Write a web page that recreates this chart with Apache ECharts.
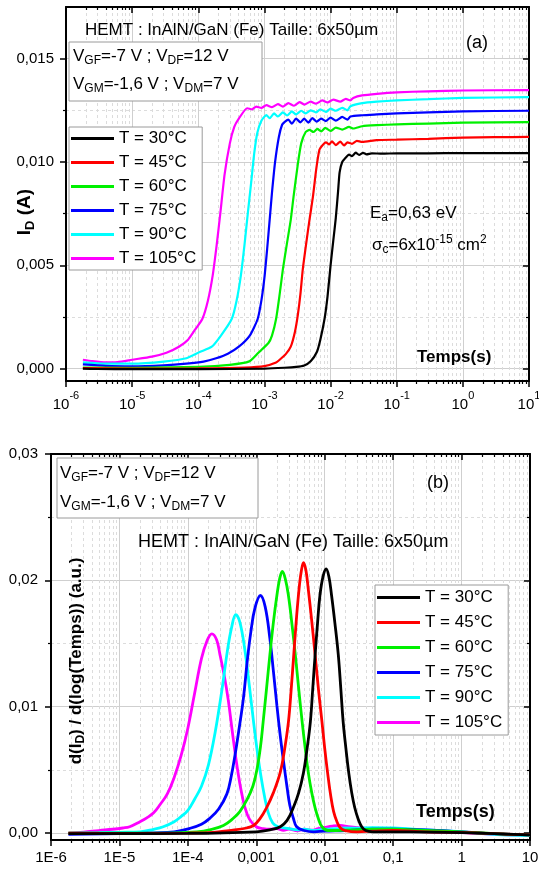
<!DOCTYPE html>
<html><head><meta charset="utf-8">
<script src="https://cdn.jsdelivr.net/npm/echarts@6/dist/echarts.min.js"></script>
<style>html,body{margin:0;padding:0;background:#fff}#c{width:539px;height:869px}</style>
</head><body><div id="c"></div><script>
// ---------- data ----------
const seriesNames = ['T = 30°C','T = 45°C','T = 60°C','T = 75°C','T = 90°C','T = 105°C'];
const seriesColors = ['#000000','#ff0000','#00f000','#0000ff','#00ffff','#ff00ff'];

// x axis ticks
const timeMajorTicks = [1e-6,1e-5,1e-4,1e-3,1e-2,1e-1,1,10];
const topXExponents = ['-6','-5','-4','-3','-2','-1','0','1'];
const bottomXTickLabels = ['1E-6','1E-5','1E-4','0,001','0,01','0,1','1','10'];
const decadeStarts = [1e-6,1e-5,1e-4,1e-3,1e-2,1e-1,1];
const minorMultipliers = [2,3,4,5,6,7,8,9];
// y axis ticks
const topYMajor = [0, 0.005, 0.010, 0.015];
const topYMinor = [0.0025, 0.0075, 0.0125];
const bottomYMajor = [0, 0.01, 0.02, 0.03];
const bottomYMinor = [0.005, 0.015, 0.025];

// (a) I_D vs time
const topCurve30 = [[1.8e-6,0.0],[3e-6,-0.00002],[1e-5,-0.00003],[1e-4,-0.00003],[1e-3,0.0],[2e-3,0.00004],[3e-3,0.00008],[4e-3,0.00015],[5e-3,0.00035],[6.2e-3,0.0008],[7e-3,0.0014],[8.1e-3,0.0024],[9e-3,0.0035],[1e-2,0.0050],[1.1e-2,0.0062],[1.2e-2,0.0073],[1.3e-2,0.0086],[1.37e-2,0.0095],[1.5e-2,0.0100],[1.7e-2,0.01022],[1.9e-2,0.01036],[2.1e-2,0.01028],[2.4e-2,0.01045],[2.7e-2,0.01034],[3.1e-2,0.01044],[3.5e-2,0.01037],[4.2e-2,0.01042],[6e-2,0.0104],[0.1,0.01042],[0.3,0.01042],[1,0.01043],[3,0.01043],[10,0.01043]];
const topCurve45 = [[1.8e-6,0.00002],[1e-5,0.0],[1e-4,0.00001],[5e-4,0.00005],[1e-3,0.00012],[1.5e-3,0.0003],[1.7e-3,0.00043],[2.1e-3,0.0007],[2.5e-3,0.00106],[2.9e-3,0.0018],[3.2e-3,0.0026],[3.5e-3,0.0036],[3.8e-3,0.0048],[4.3e-3,0.0061],[4.8e-3,0.0072],[5.4e-3,0.0083],[6.1e-3,0.0097],[6.8e-3,0.0106],[7.5e-3,0.0108],[8.5e-3,0.01095],[9.5e-3,0.01085],[1.05e-2,0.0110],[1.2e-2,0.01082],[1.4e-2,0.01098],[1.6e-2,0.0108],[1.8e-2,0.01095],[2.1e-2,0.01088],[2.5e-2,0.01102],[3e-2,0.01097],[5e-2,0.01106],[0.1,0.01108],[0.3,0.01112],[1,0.01118],[3,0.0112],[10,0.01121]];
const topCurve60 = [[1.8e-6,0.00005],[1e-5,0.00004],[1e-4,0.00008],[3e-4,0.00018],[5.9e-4,0.00035],[8.1e-4,0.00077],[1.15e-3,0.00124],[1.3e-3,0.0016],[1.5e-3,0.0024],[1.7e-3,0.0036],[1.9e-3,0.0048],[2.2e-3,0.0061],[2.5e-3,0.0072],[2.75e-3,0.0083],[3.2e-3,0.0099],[3.6e-3,0.0109],[4.2e-3,0.01145],[4.8e-3,0.01155],[5.5e-3,0.01145],[6.3e-3,0.0116],[7.2e-3,0.01148],[8.3e-3,0.01165],[1e-2,0.0115],[1.2e-2,0.01166],[1.5e-2,0.01157],[1.9e-2,0.0117],[2.2e-2,0.01162],[3e-2,0.01173],[5e-2,0.01178],[0.1,0.01182],[0.3,0.01186],[1,0.0119],[10,0.01193]];
const topCurve75 = [[1.8e-6,0.0002],[4e-6,0.00013],[1e-5,0.00011],[3e-5,0.00016],[6.6e-5,0.00024],[1.2e-4,0.00034],[1.86e-4,0.0005],[2.8e-4,0.00072],[4.1e-4,0.00106],[6e-4,0.0016],[7.9e-4,0.0024],[9e-4,0.0033],[1e-3,0.0044],[1.1e-3,0.0058],[1.2e-3,0.0072],[1.3e-3,0.0085],[1.45e-3,0.01],[1.65e-3,0.0112],[1.85e-3,0.0118],[2.05e-3,0.01195],[2.3e-3,0.01205],[2.6e-3,0.01185],[3e-3,0.0121],[3.5e-3,0.01192],[4e-3,0.0121],[4.6e-3,0.0119],[5.3e-3,0.01212],[6.2e-3,0.01195],[7.2e-3,0.0121],[8.5e-3,0.01198],[1e-2,0.01215],[1.2e-2,0.012],[1.5e-2,0.01218],[1.8e-2,0.01205],[2e-2,0.0122],[3e-2,0.01226],[5e-2,0.0123],[0.1,0.01235],[0.3,0.0124],[1,0.01245],[10,0.01248]];
const topCurve90 = [[1.8e-6,0.0003],[4e-6,0.00024],[1e-5,0.00024],[3e-5,0.00034],[6.6e-5,0.0005],[1.05e-4,0.0008],[1.6e-4,0.00106],[2.2e-4,0.0016],[3.2e-4,0.0024],[3.8e-4,0.0033],[4.4e-4,0.0045],[5e-4,0.006],[5.6e-4,0.0075],[6.3e-4,0.009],[7e-4,0.0104],[7.8e-4,0.0114],[9e-4,0.012],[1.07e-3,0.01227],[1.2e-3,0.01212],[1.4e-3,0.01235],[1.6e-3,0.0122],[1.9e-3,0.0124],[2.2e-3,0.01225],[2.6e-3,0.01245],[3e-3,0.0123],[3.6e-3,0.01248],[4.2e-3,0.01235],[5e-3,0.0125],[6e-3,0.0124],[7e-3,0.01255],[8.5e-3,0.01242],[1e-2,0.01258],[1.2e-2,0.01248],[1.5e-2,0.01262],[1.8e-2,0.0125],[2e-2,0.0127],[3e-2,0.01285],[5e-2,0.01292],[0.1,0.01298],[0.3,0.01304],[1,0.0131],[10,0.01314]];
const topCurve105 = [[1.8e-6,0.00043],[2.5e-6,0.00036],[4e-6,0.0003],[6e-6,0.00032],[1e-5,0.00043],[2e-5,0.00058],[3.3e-5,0.00077],[5.1e-5,0.00106],[7e-5,0.0014],[9e-5,0.0019],[1.15e-4,0.0024],[1.4e-4,0.0033],[1.65e-4,0.0045],[1.9e-4,0.006],[2.15e-4,0.0075],[2.5e-4,0.0094],[3e-4,0.0109],[3.5e-4,0.0117],[4.1e-4,0.0121],[5.5e-4,0.0126],[6.5e-4,0.01255],[7.5e-4,0.01268],[9e-4,0.01262],[1.07e-3,0.01275],[1.3e-3,0.01265],[1.6e-3,0.0128],[1.9e-3,0.01268],[2.3e-3,0.01285],[2.8e-3,0.01272],[3.4e-3,0.0129],[4e-3,0.01278],[5e-3,0.01292],[6e-3,0.01282],[7.5e-3,0.01298],[9e-3,0.01288],[1.1e-2,0.01302],[1.4e-2,0.01292],[1.7e-2,0.01305],[2e-2,0.01298],[2.2e-2,0.0131],[3e-2,0.01322],[5e-2,0.0133],[0.1,0.01337],[0.3,0.01342],[1,0.01346],[10,0.01348]];

// (b) d(I_D)/d(log t)
const derivCurve30 = [[1.8e-6,-0.00005],[1e-5,-0.00005],[1e-4,-0.00003],[1e-3,0.0001],[1.58e-3,0.00025],[2.24e-3,0.0005],[2.82e-3,0.001],[3.47e-3,0.002],[4.17e-3,0.0032],[4.9e-3,0.0048],[5.5e-3,0.0066],[6.17e-3,0.0088],[6.68e-3,0.0114],[7.24e-3,0.0141],[7.85e-3,0.0166],[8.51e-3,0.0188],[9.44e-3,0.0203],[1.05e-2,0.0209],[1.15e-2,0.0203],[1.26e-2,0.0188],[1.41e-2,0.0166],[1.58e-2,0.0141],[1.72e-2,0.0114],[1.86e-2,0.0088],[2.04e-2,0.0067],[2.24e-2,0.0048],[2.48e-2,0.0032],[2.75e-2,0.002],[3.09e-2,0.0011],[3.47e-2,0.0005],[3.98e-2,0.0002],[5e-2,0.0001],[0.1,0.0001],[0.3,0.00008],[1,0.00003],[3,-0.00005],[10,-0.00015]];
const derivCurve45 = [[1.8e-6,0.0],[1e-5,-0.00003],[1e-4,0.0],[2.34e-4,0.00005],[3.98e-4,0.0002],[7.24e-4,0.0004],[9.12e-4,0.0006],[1.12e-3,0.0011],[1.41e-3,0.002],[1.78e-3,0.0032],[2.24e-3,0.0048],[2.57e-3,0.0065],[2.95e-3,0.0088],[3.24e-3,0.0114],[3.55e-3,0.0143],[3.89e-3,0.0172],[4.27e-3,0.0196],[4.57e-3,0.0208],[4.9e-3,0.0214],[5.31e-3,0.0208],[5.75e-3,0.0193],[6.46e-3,0.0168],[7.24e-3,0.0141],[8.13e-3,0.0113],[9.12e-3,0.0088],[1e-2,0.0067],[1.1e-2,0.0048],[1.22e-2,0.003],[1.35e-2,0.0017],[1.51e-2,0.0009],[1.7e-2,0.0004],[2e-2,0.0002],[3e-2,0.0001],[5e-2,0.00015],[0.1,0.0002],[0.3,0.0001],[1,0.00005],[3,-0.00005],[10,-0.00015]];
const derivCurve60 = [[1.8e-6,0.0],[1e-5,0.0],[3.16e-5,0.0],[1.35e-4,0.0001],[2.24e-4,0.0003],[3.31e-4,0.0006],[4.47e-4,0.0011],[5.75e-4,0.0017],[7.41e-4,0.0027],[8.91e-4,0.0037],[1.02e-3,0.005],[1.15e-3,0.0068],[1.26e-3,0.0088],[1.41e-3,0.0114],[1.58e-3,0.0141],[1.78e-3,0.0167],[2e-3,0.0188],[2.19e-3,0.0201],[2.4e-3,0.0207],[2.66e-3,0.0201],[2.95e-3,0.0188],[3.31e-3,0.0166],[3.72e-3,0.0141],[4.17e-3,0.0114],[4.68e-3,0.0088],[5.19e-3,0.0067],[5.75e-3,0.0048],[6.46e-3,0.0032],[7.24e-3,0.002],[8.13e-3,0.0011],[9.12e-3,0.0005],[1.12e-2,0.0002],[1.5e-2,0.0002],[2.5e-2,0.00025],[5e-2,0.0003],[0.1,0.0003],[0.3,0.0002],[1,0.0001],[3,-0.00005],[10,-0.00015]];
const derivCurve75 = [[1.8e-6,-0.0001],[1e-5,-0.00005],[3.16e-5,0.00002],[6.31e-5,0.0001],[1.07e-4,0.00037],[1.58e-4,0.0007],[2.09e-4,0.00116],[2.82e-4,0.0019],[3.72e-4,0.0031],[4.27e-4,0.0044],[4.9e-4,0.0062],[5.62e-4,0.0083],[6.46e-4,0.0106],[7.41e-4,0.0137],[8.32e-4,0.0159],[9.55e-4,0.0178],[1.15e-3,0.0188],[1.35e-3,0.0179],[1.58e-3,0.0154],[1.78e-3,0.0128],[2e-3,0.0101],[2.24e-3,0.0077],[2.51e-3,0.0056],[2.82e-3,0.0036],[3.09e-3,0.0022],[3.47e-3,0.0012],[3.89e-3,0.0005],[5e-3,0.0002],[7e-3,0.0001],[1e-2,0.00015],[2e-2,0.0002],[5e-2,0.0003],[0.1,0.0003],[0.3,0.00025],[1,0.0001],[3,-0.00005],[10,-0.00015]];
const derivCurve90 = [[1.8e-6,0.0],[5e-6,0.00003],[1e-5,0.00006],[2e-5,0.0001],[3.16e-5,0.0003],[4.37e-5,0.0005],[6.31e-5,0.0009],[7.94e-5,0.0013],[1e-4,0.0018],[1.26e-4,0.0027],[1.58e-4,0.0037],[2e-4,0.0054],[2.51e-4,0.008],[3.16e-4,0.0114],[3.8e-4,0.0145],[4.37e-4,0.0163],[5.01e-4,0.01729],[5.75e-4,0.0167],[6.76e-4,0.0146],[7.94e-4,0.0116],[9.12e-4,0.0088],[1.05e-3,0.0062],[1.17e-3,0.0045],[1.32e-3,0.0029],[1.48e-3,0.0017],[1.74e-3,0.0008],[2.09e-3,0.0005],[3e-3,0.00035],[4e-3,0.00025],[5e-3,0.0003],[7e-3,0.0002],[1e-2,0.0003],[1.5e-2,0.00035],[2e-2,0.0004],[3e-2,0.00038],[5e-2,0.00042],[0.1,0.0004],[0.3,0.00025],[1,0.0001],[3,-0.0001],[10,-0.0002]];
const derivCurve105 = [[1.8e-6,0.0],[3e-6,0.00008],[5e-6,0.0002],[8e-6,0.0003],[1.12e-5,0.0004],[1.41e-5,0.0005],[2e-5,0.0009],[2.51e-5,0.0012],[3.16e-5,0.0016],[3.98e-5,0.0023],[5.01e-5,0.0031],[6.31e-5,0.0044],[7.94e-5,0.0061],[1e-4,0.0083],[1.26e-4,0.0111],[1.58e-4,0.0138],[1.9e-4,0.0152],[2.24e-4,0.01577],[2.63e-4,0.0153],[2.95e-4,0.0141],[3.39e-4,0.0125],[3.9e-4,0.0105],[4.47e-4,0.008],[5.13e-4,0.0056],[5.89e-4,0.0036],[6.76e-4,0.0021],[7.94e-4,0.0011],[1e-3,0.0005],[1.26e-3,0.00035],[1.6e-3,0.0003],[2e-3,0.00035],[2.5e-3,0.00022],[3e-3,0.00032],[4e-3,0.00018],[5e-3,0.0003],[6.5e-3,0.00022],[8e-3,0.00035],[1e-2,0.00045],[1.3e-2,0.00055],[1.7e-2,0.0006],[2.2e-2,0.0005],[3e-2,0.00042],[5e-2,0.00035],[0.1,0.00025],[0.3,0.00012],[1,0.00003],[3,-0.0001],[10,-0.00016]];

const topCurves = [topCurve30, topCurve45, topCurve60, topCurve75, topCurve90, topCurve105];
const derivCurves = [derivCurve30, derivCurve45, derivCurve60, derivCurve75, derivCurve90, derivCurve105];

// ---------- chart ----------
const FONT = '"Liberation Sans", Arial, sans-serif';
const minorTimes = [];
decadeStarts.forEach(d => minorMultipliers.forEach(m => minorTimes.push(+(m * d).toPrecision(3))));
const decIndex = v => Math.round(Math.log10(v)) + 6;

function xAxes(gridIndex, labelCfg) {
  const base = {type: 'log', logBase: 10, gridIndex, min: 1e-6, max: 10};
  const line = {show: true, onZero: false, lineStyle: {color: '#000', width: 2}};
  return [
    Object.assign({}, base, {position: 'bottom', axisLine: line,
      axisTick: {show: true, customValues: timeMajorTicks, length: 6, lineStyle: {color: '#000', width: 1.5}},
      axisLabel: labelCfg,
      splitLine: {show: true, lineStyle: {color: '#cfcfcf', width: 1}}}),
    Object.assign({}, base, {position: 'bottom', axisLine: {show: false, onZero: false},
      axisTick: {show: true, customValues: minorTimes, length: 3, lineStyle: {color: '#000', width: 1.2}},
      axisLabel: {show: false},
      splitLine: {show: true, lineStyle: {color: '#dcdcdc', width: 1, type: [3, 3]}}}),
    Object.assign({}, base, {position: 'top', axisLine: line,
      axisTick: {show: true, inside: true, customValues: timeMajorTicks, length: 6, lineStyle: {color: '#000', width: 1.5}},
      axisLabel: {show: false}, splitLine: {show: false}}),
    Object.assign({}, base, {position: 'top', axisLine: {show: false, onZero: false},
      axisTick: {show: true, inside: true, customValues: minorTimes, length: 3, lineStyle: {color: '#000', width: 1.2}},
      axisLabel: {show: false}, splitLine: {show: false}})
  ];
}
function yAxes(gridIndex, min, max, major, minor, labelCfg) {
  const base = {type: 'value', gridIndex, min, max};
  const line = {show: true, onZero: false, lineStyle: {color: '#000', width: 2}};
  return [
    Object.assign({}, base, {position: 'left', axisLine: line,
      axisTick: {show: true, customValues: major, length: 6, lineStyle: {color: '#000', width: 1.5}},
      axisLabel: labelCfg,
      splitLine: {show: true, lineStyle: {color: '#cfcfcf', width: 1}}}),
    Object.assign({}, base, {position: 'left', axisLine: {show: false, onZero: false},
      axisTick: {show: true, customValues: minor, length: 3, lineStyle: {color: '#000', width: 1.2}},
      axisLabel: {show: false},
      splitLine: {show: true, lineStyle: {color: '#dcdcdc', width: 1, type: [3, 3]}}}),
    Object.assign({}, base, {position: 'right', axisLine: line,
      axisTick: {show: true, inside: true, customValues: major, length: 6, lineStyle: {color: '#000', width: 1.5}},
      axisLabel: {show: false}, splitLine: {show: false}}),
    Object.assign({}, base, {position: 'right', axisLine: {show: false, onZero: false},
      axisTick: {show: true, inside: true, customValues: minor, length: 3, lineStyle: {color: '#000', width: 1.2}},
      axisLabel: {show: false}, splitLine: {show: false}})
  ];
}

const topXLabel = {show: true, customValues: timeMajorTicks, margin: 9, color: '#000', fontFamily: FONT, fontSize: 15,
  formatter: v => '{b|10}{s|' + topXExponents[decIndex(v)] + '}',
  rich: {b: {fontSize: 15, fontFamily: FONT, color: '#000', lineHeight: 22, verticalAlign: 'bottom'},
         s: {fontSize: 11, fontFamily: FONT, color: '#000', lineHeight: 12, verticalAlign: 'top'}}};
const bottomXLabel = {show: true, customValues: timeMajorTicks, margin: 10, color: '#000', fontFamily: FONT, fontSize: 15,
  formatter: v => bottomXTickLabels[decIndex(v)]};
const topYLabel = {show: true, customValues: topYMajor, margin: 12, color: '#000', fontFamily: FONT, fontSize: 15,
  formatter: v => v.toFixed(3).replace('.', ',')};
const bottomYLabel = {show: true, customValues: bottomYMajor, margin: 13, color: '#000', fontFamily: FONT, fontSize: 15,
  formatter: v => v.toFixed(2).replace('.', ',')};

const series = [];
topCurves.forEach((d, i) => series.push({name: seriesNames[i], type: 'line', xAxisIndex: 0, yAxisIndex: 0, data: d,
  showSymbol: false, symbol: 'none', smooth: 0.2, color: seriesColors[i],
  lineStyle: {width: 2.2, color: seriesColors[i]}, z: 10 - i}));
derivCurves.forEach((d, i) => series.push({name: seriesNames[i], type: 'line', xAxisIndex: 4, yAxisIndex: 4, data: d,
  showSymbol: false, symbol: 'none', smooth: 0.4, color: seriesColors[i],
  lineStyle: {width: 2.8, color: seriesColors[i]}, z: 10 - i}));

const legendBase = {orient: 'vertical', icon: 'rect', itemWidth: 43, itemHeight: 3,
  textStyle: {color: '#000', fontFamily: FONT, fontSize: 17}, borderColor: '#9a9a9a', borderWidth: 1,
  backgroundColor: '#fff', data: seriesNames, selectedMode: false, z: 20};

const T = (x, y, text, rich, extra) => Object.assign({type: 'text', x, y, z: 50,
  style: Object.assign({text, fill: '#000', font: '17px ' + FONT, align: 'left', verticalAlign: 'middle', rich: rich || {}}, extra || {})});
const richSub = {n: {fontSize: 17, fontFamily: FONT, fill: '#000', lineHeight: 22},
  s: {fontSize: 12, fontFamily: FONT, fill: '#000', lineHeight: 12, verticalAlign: 'bottom'},
  p: {fontSize: 12, fontFamily: FONT, fill: '#000', lineHeight: 12, verticalAlign: 'top'}};
const vf = '{n|V}{s|GF}{n|=-7 V ; V}{s|DF}{n|=12 V}';
const vm = '{n|V}{s|GM}{n|=-1,6 V ; V}{s|DM}{n|=7 V}';

const option = {
  animation: false,
  backgroundColor: '#fff',
  grid: [
    {left: 66, right: 10, top: 7, height: 374, containLabel: false, outerBoundsMode: 'none'},
    {left: 51, right: 9, top: 454, height: 386, containLabel: false, outerBoundsMode: 'none'}
  ],
  xAxis: xAxes(0, topXLabel).concat(xAxes(1, bottomXLabel)),
  yAxis: yAxes(0, -0.0006, 0.0175, topYMajor, topYMinor, topYLabel)
    .concat(yAxes(1, -0.00055, 0.03, bottomYMajor, bottomYMinor, bottomYLabel)),
  legend: [
    Object.assign({}, legendBase, {left: 69, top: 127, itemGap: 7, padding: [3, 6, 3, 2]}),
    Object.assign({}, legendBase, {left: 375, top: 585, itemGap: 8, padding: [4, 6, 4, 2]})
  ],
  series,
  graphic: [
    // panel (a)
    T(85, 30, 'HEMT : InAlN/GaN (Fe) Taille: 6x50µm'),
    T(466, 43, '(a)', null, {font: '18px ' + FONT}),
    {type: 'rect', z: 40, shape: {x: 69, y: 42, width: 193, height: 59}, style: {fill: '#fff', stroke: '#9a9a9a', lineWidth: 1}},
    T(73, 56, vf, richSub),
    T(73, 84, vm, richSub),
    T(370, 213, '{n|E}{s|a}{n|=0,63 eV}', richSub),
    T(372, 245, '{n|σ}{s|c}{n|=6x10}{p|-15}{n| cm}{p|2}', richSub),
    T(417, 357, 'Temps(s)', null, {font: 'bold 17px ' + FONT}),
    {type: 'text', z: 50, x: 25, y: 212, rotation: Math.PI / 2,
      style: {text: '{b|I}{c|D}{b| (A)}', align: 'center', verticalAlign: 'middle',
        rich: {b: {fontSize: 19, fontWeight: 'bold', fontFamily: FONT, fill: '#000', lineHeight: 24},
               c: {fontSize: 13, fontWeight: 'bold', fontFamily: FONT, fill: '#000', lineHeight: 13, verticalAlign: 'bottom'}}}},
    // panel (b)
    {type: 'rect', z: 40, shape: {x: 57, y: 458, width: 201, height: 60}, style: {fill: '#fff', stroke: '#9a9a9a', lineWidth: 1}},
    T(60, 473, vf, richSub),
    T(60, 502, vm, richSub),
    T(427, 483, '(b)', null, {font: '18px ' + FONT}),
    T(138, 542, 'HEMT : InAlN/GaN (Fe) Taille: 6x50µm', null, {font: '18px ' + FONT}),
    T(416, 812, 'Temps(s)', null, {font: 'bold 18px ' + FONT}),
    {type: 'text', z: 50, x: 76, y: 661, rotation: Math.PI / 2,
      style: {text: '{b|d(I}{c|D}{b|) / d(log(Temps)) (a.u.)}', align: 'center', verticalAlign: 'middle',
        rich: {b: {fontSize: 17, fontWeight: 'bold', fontFamily: FONT, fill: '#000', lineHeight: 22},
               c: {fontSize: 12, fontWeight: 'bold', fontFamily: FONT, fill: '#000', lineHeight: 12, verticalAlign: 'bottom'}}}}
  ]
};
const chart = echarts.init(document.getElementById('c'), null, {renderer: 'canvas'});
chart.setOption(option);
</script></body></html>
